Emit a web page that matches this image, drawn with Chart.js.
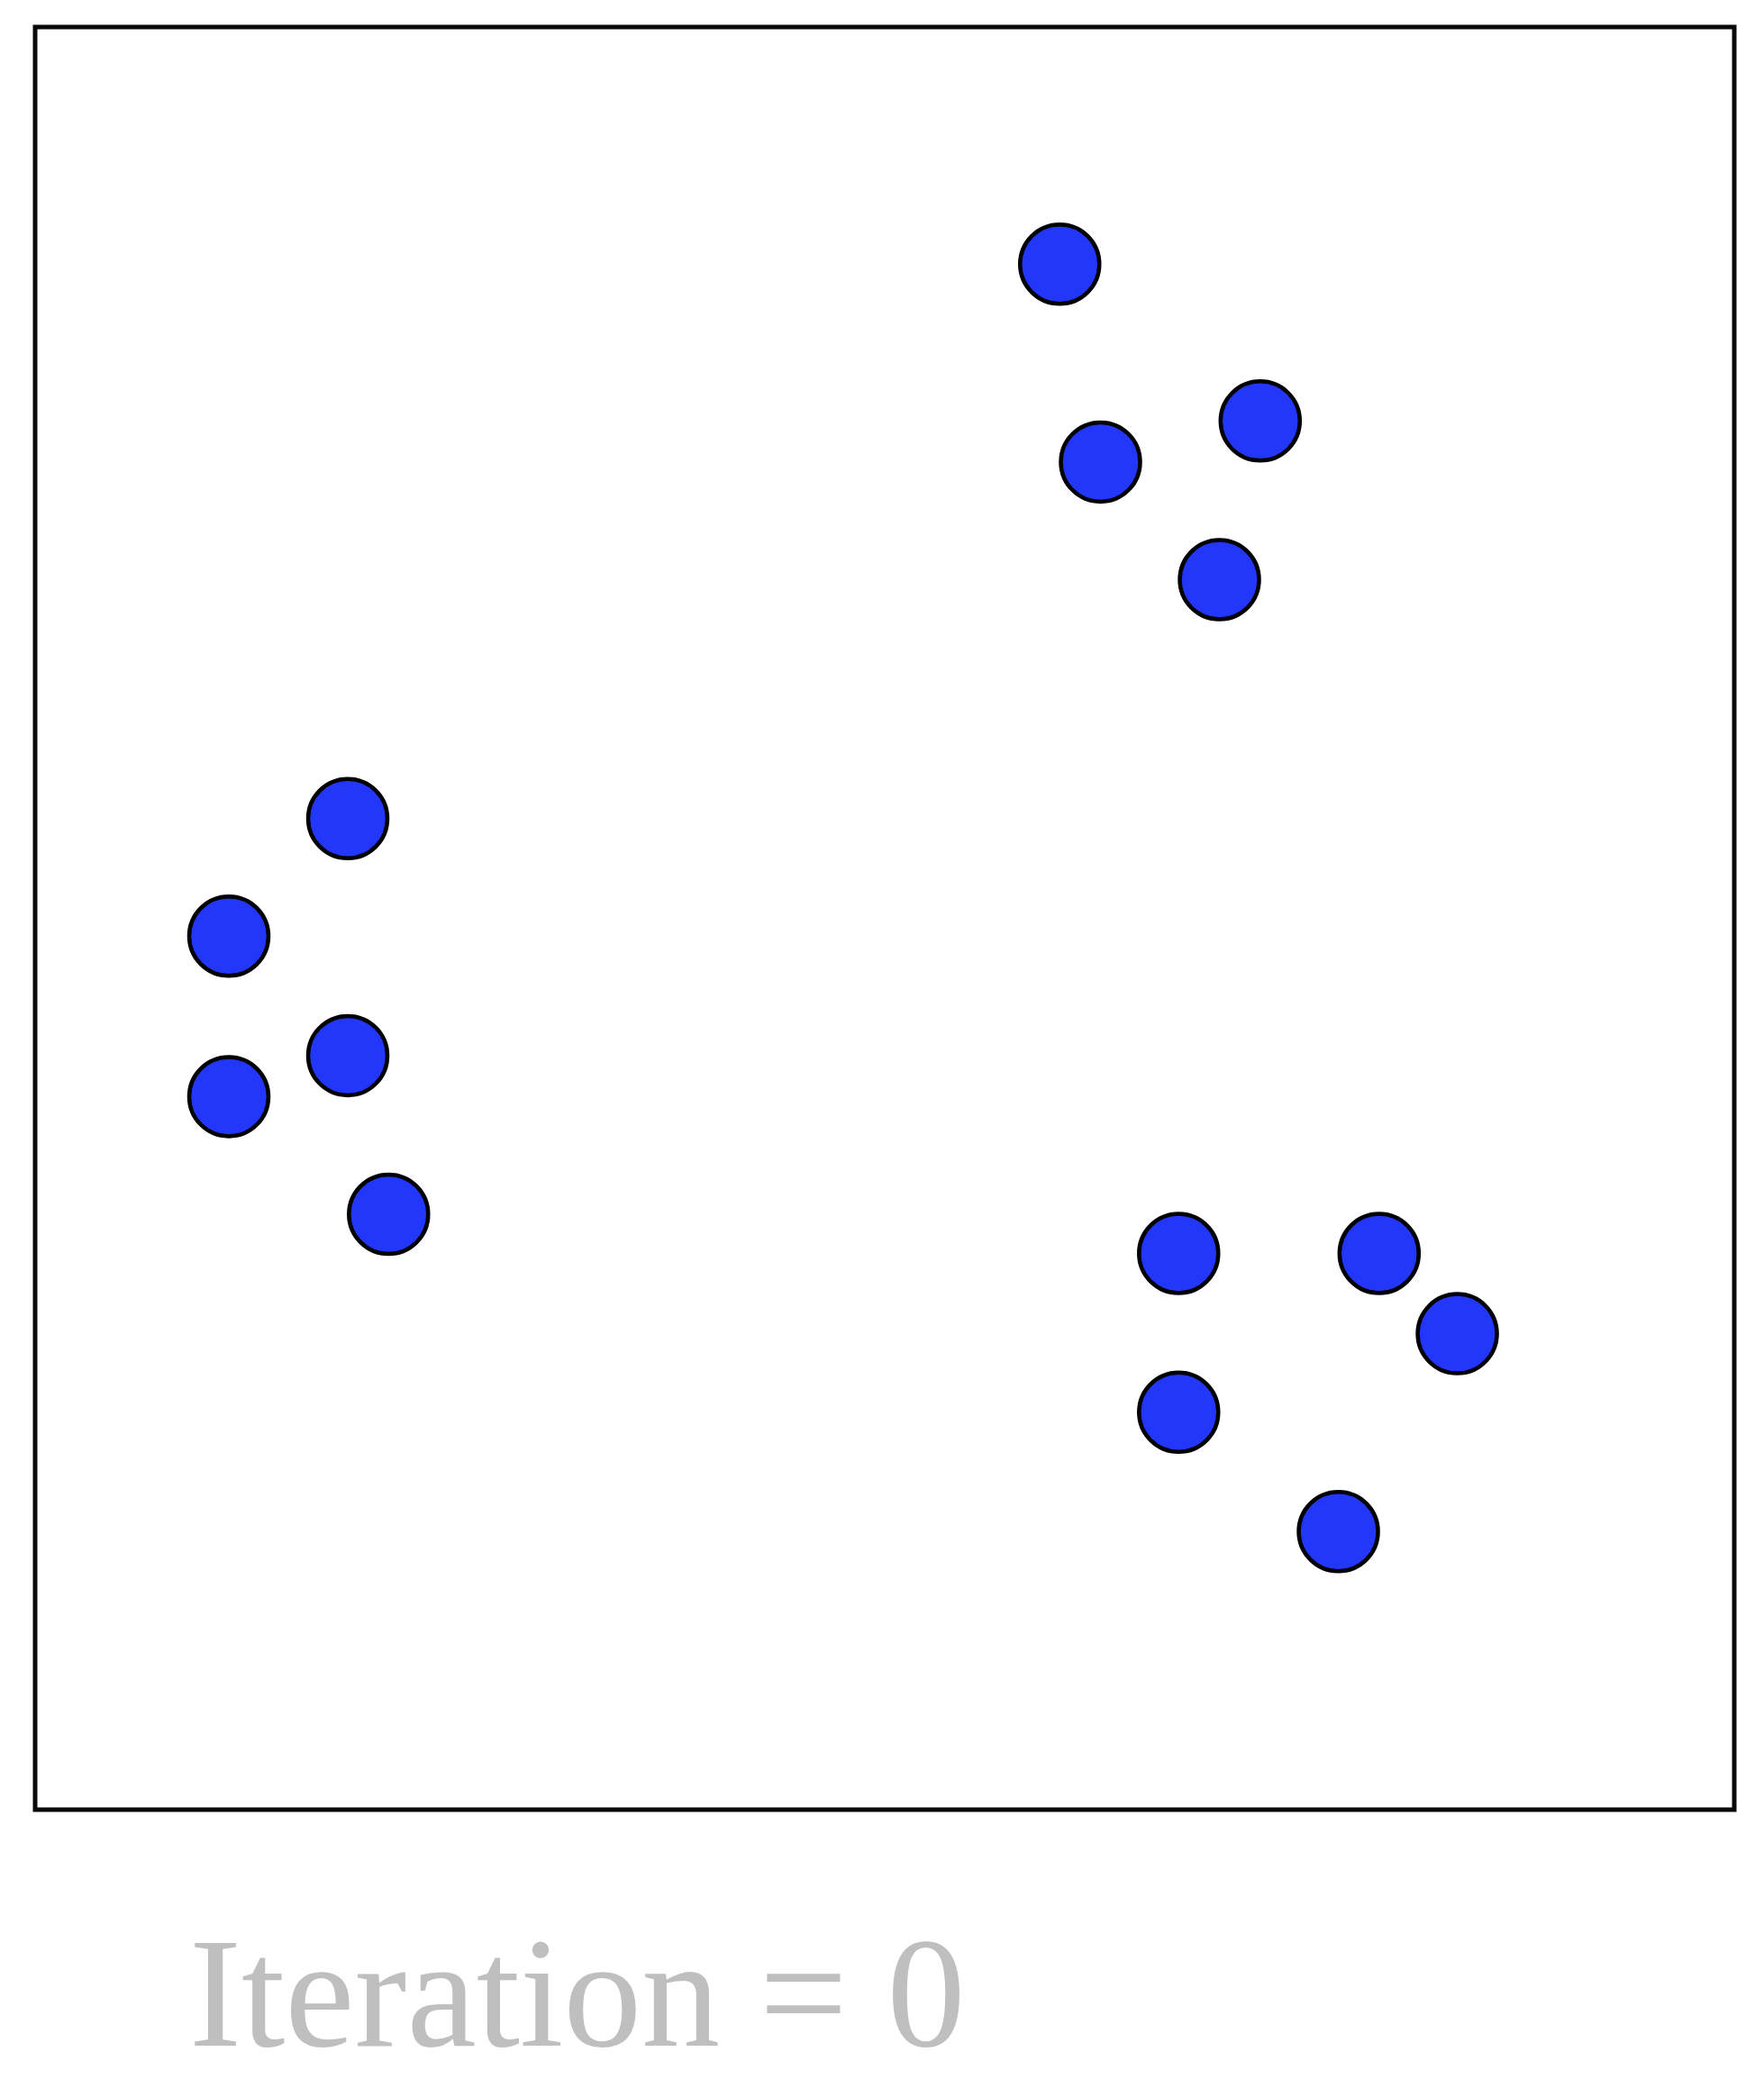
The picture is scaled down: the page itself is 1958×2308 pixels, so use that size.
<!DOCTYPE html>
<html>
<head>
<meta charset="utf-8">
<script src="https://cdn.jsdelivr.net/npm/chart.js@4/dist/chart.umd.min.js"></script>
<style>
  html, body { margin: 0; padding: 0; background: #ffffff; }
  #wrap { position: relative; width: 1958px; height: 2308px; }
  #c { position: absolute; left: 0; top: 0; }
  #caption {
    position: absolute; left: 210px; top: 2126px;
    font-family: "Liberation Serif", "DejaVu Serif", serif;
    font-size: 174px; line-height: 174px; color: #bebfbe;
    white-space: nowrap;
  }
</style>
</head>
<body>
<div id="wrap">
  <canvas id="c" width="1958" height="2308"></canvas>
  <div id="caption">Iteration = 0</div>
</div>
<script>
// Point positions (data units, frame spans 0..100 on both axes)
const pointX = [60.3, 72.1, 62.7, 69.7, 18.4, 11.4, 18.4, 11.4, 20.8, 67.3, 79.1, 83.7, 67.3, 76.7];
const pointY = [86.7, 77.9, 75.6, 69.0, 55.6, 49.0, 42.3, 40.0, 33.4, 31.2, 31.2, 26.7, 22.3, 15.6];
const axisRange = [0, 100];

const framePlugin = {
  id: 'frame',
  beforeDatasetsDraw(chart) {
    const a = chart.chartArea;
    const ctx = chart.ctx;
    ctx.save();
    ctx.strokeStyle = '#0a0a0a';
    ctx.lineWidth = 5;
    ctx.strokeRect(a.left, a.top, a.right - a.left, a.bottom - a.top);
    ctx.restore();
  }
};

new Chart(document.getElementById('c'), {
  type: 'scatter',
  data: {
    datasets: [{
      data: pointX.map((x, i) => ({ x: x, y: pointY[i] })),
      pointRadius: 44,
      pointHoverRadius: 44,
      pointBorderWidth: 4.5,
      pointBorderColor: '#000000',
      pointBackgroundColor: '#2337fb',
      clip: false
    }]
  },
  options: {
    responsive: false,
    devicePixelRatio: 1,
    animation: false,
    events: [],
    layout: { autoPadding: false, padding: { left: 39, top: 30, right: 33, bottom: 299 } },
    plugins: { legend: { display: false }, tooltip: { enabled: false }, title: { display: false } },
    scales: {
      x: { type: 'linear', min: axisRange[0], max: axisRange[1], display: false },
      y: { type: 'linear', min: axisRange[0], max: axisRange[1], display: false }
    }
  },
  plugins: [framePlugin]
});
</script>
</body>
</html>
